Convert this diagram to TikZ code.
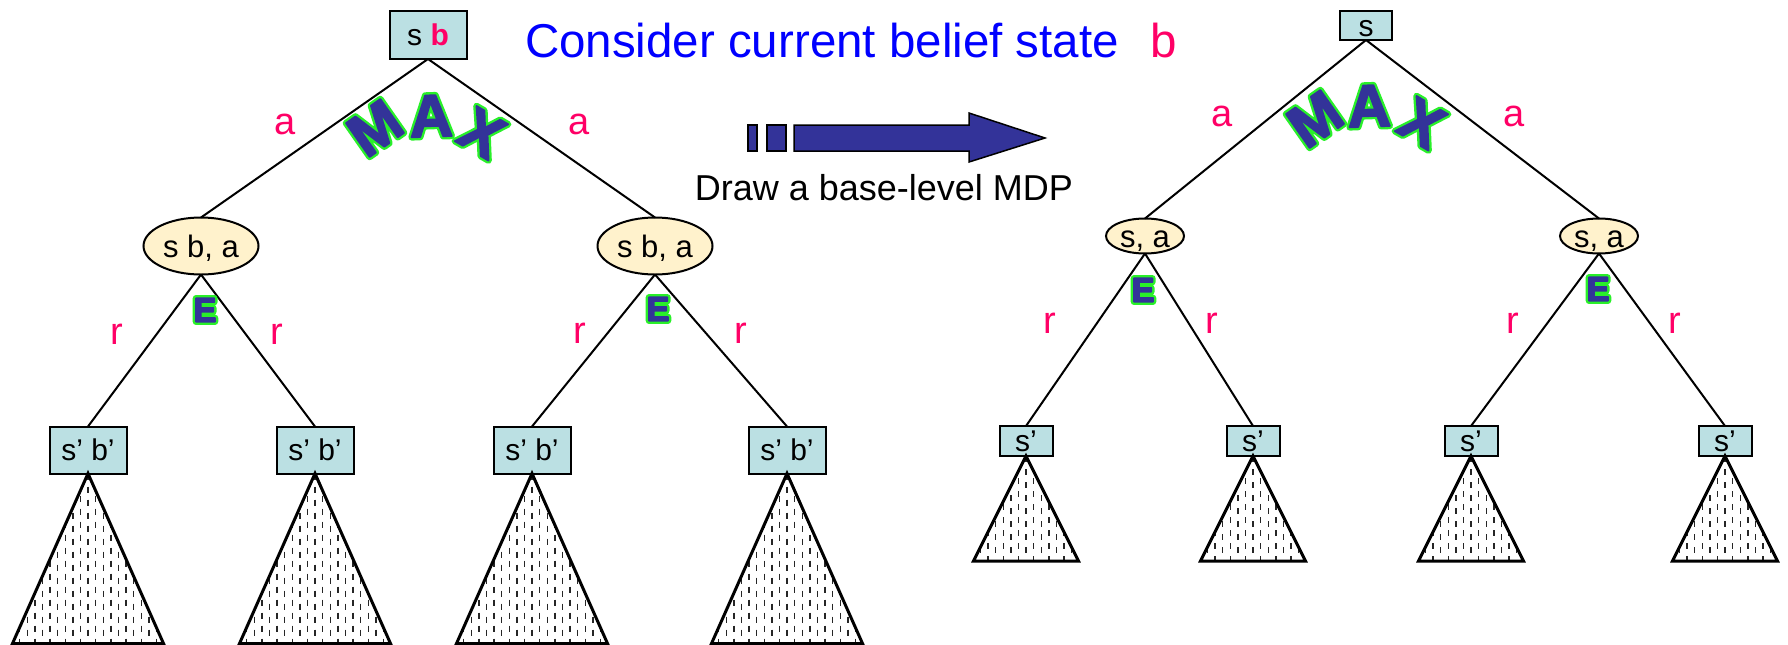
\documentclass[tikz,border=0pt]{standalone}
\usepackage{fontspec}
\setmainfont{Liberation Sans}
\usetikzlibrary{shapes.geometric,calc}
\definecolor{boxblue}{RGB}{187,224,227}
\definecolor{ellyel}{RGB}{255,242,204}
\definecolor{pinkred}{RGB}{255,0,102}
\definecolor{titleblue}{RGB}{0,0,255}
\definecolor{wablue}{RGB}{51,51,153}
\definecolor{wagreen}{RGB}{40,240,40}
\newcommand\fs[1]{\fontsize{#1}{#1}\selectfont}
\newcommand\stroked[3]{\special{pdf:literal direct 2 Tr #2 RG #1 w 1 j}#3\special{pdf:literal direct 0 Tr 0 j}}
\tikzset{
 every node/.style={inner sep=0pt, outer sep=0pt},
 bigbox/.style={draw, line width=2pt, fill=boxblue, minimum width=77pt, minimum height=47pt, font=\fs{30}, text height=21pt, text depth=0pt},
 smallbox/.style={draw, line width=2pt, fill=boxblue, minimum width=53pt, minimum height=30pt, font=\fs{30}, text height=21pt, text depth=0pt},
 bigell/.style={ellipse, draw, line width=2pt, fill=ellyel, minimum width=115pt, minimum height=57pt, font=\fs{31}, text height=22pt, text depth=0pt},
 smallell/.style={ellipse, draw, line width=2pt, fill=ellyel, minimum width=78pt, minimum height=35pt, font=\fs{31}, text height=22pt, text depth=0pt},
 edgeline/.style={line width=2pt},
 tri/.style={line width=3pt, line join=miter},
 hatch/.style={line width=1.4pt, black!85, dash pattern=on 6pt off 7pt},
 lbl/.style={text=pinkred, font=\fs{38}, anchor=base},
 wa/.style={font=\bfseries\fs{60}},
 wae/.style={font=\bfseries\fs{34}},
 arrowst/.style={draw, line width=1.5pt, fill=wablue, line join=miter},
}
% WordArt-like letter: green outlined layer below, thickened blue layer on top
\newcommand\waletter[6]{%
 \node[#1, text=wagreen, rotate=#5] (#2g) at (#3,#4) {\stroked{6.5}{0.16 0.94 0.16}{#6}};
 \node[#1, text=wablue, rotate=#5] (#2) at (#3,#4) {\stroked{1.8}{0.2 0.2 0.6}{#6}};
}
\newcommand\subtree[4]{%
 \begin{scope}
  \clip (#1.south) -- ++(-#2,#3) -- ++(2*#2,0) -- cycle;
  \foreach \i [evaluate=\i as \ph using {mod(abs(\i),2)*4}] in {-#4,...,#4}
    \draw[hatch, dash phase=\ph pt] ($(#1.south)+(\i*7.6,0)$) -- ++(0,#3);
 \end{scope}
 \draw[tri] (#1.south) -- ++(-#2,#3) -- ++(2*#2,0) -- cycle;
}
\begin{document}
\begin{tikzpicture}[x=1pt,y=-1pt]
\useasboundingbox (0,0) rectangle (1788,645);
\fill[white] (0,0) rectangle (1788,645);

% title
\node[anchor=base west, text=titleblue, font=\fs{47.5}] (title) at (525,57) {Consider current belief state};
\node[anchor=base, text=pinkred, font=\fs{47.5}] (titleb) at (1164,57) {b};

% arrow
\draw[arrowst] (748,125) rectangle (757,151);
\draw[arrowst] (767,125) rectangle (786,151);
\draw[arrowst] (794,125) -- (969,125) -- (969,113) -- (1045,138) -- (969,162) -- (969,151) -- (794,151) -- cycle;
\node[anchor=base, font=\fs{36}] (drawtxt) at (884,200) {Draw a base-level MDP};

% ---------------- left tree
\node[bigbox, minimum height=48pt] (L) at (428,35) {s \textcolor{pinkred}{\textbf{b}}};
\node[bigell] (L1) at (201,246) {s b, a};
\node[bigell] (L2) at (655,246) {s b, a};
\node[bigbox] (LB1) at (88,450) {s’ b’};
\node[bigbox] (LB2) at (315,450) {s’ b’};
\node[bigbox] (LB3) at (532,450) {s’ b’};
\node[bigbox] (LB4) at (787,450) {s’ b’};
\draw[edgeline] (L.south) -- (L1.north);
\draw[edgeline] (L.south) -- (L2.north);
\draw[edgeline] (L1.south) -- (LB1.north);
\draw[edgeline] (L1.south) -- (LB2.north);
\draw[edgeline] (L2.south) -- (LB3.north);
\draw[edgeline] (L2.south) -- (LB4.north);
\subtree{LB1}{75.5}{170}{10}
\subtree{LB2}{75.5}{170}{10}
\subtree{LB3}{75.5}{170}{10}
\subtree{LB4}{75.5}{170}{10}
\node[lbl] (La1) at (285,134) {a};
\node[lbl] (La2) at (579,134) {a};
\node[lbl] (Lr1) at (117,344) {r};
\node[lbl] (Lr2) at (277,344) {r};
\node[lbl] (Lr3) at (580,343) {r};
\node[lbl] (Lr4) at (741,343) {r};
\waletter{wa}{LM}{375}{128}{35}{M}
\waletter{wa}{LA}{431}{116}{2}{A}
\waletter{wa}{LX}{482}{133}{-30}{X}
\waletter{wae}{LE1}{205}{310}{0}{E}
\waletter{wae}{LE2}{658}{309}{0}{E}

% ---------------- right tree
\node[smallbox, minimum width=52pt, minimum height=29pt] (R) at (1366,25.5) {s};
\node[smallell] (R1) at (1145,236) {s, a};
\node[smallell] (R2) at (1599,236) {s, a};
\node[smallbox] (RB1) at (1026,441) {s’};
\node[smallbox] (RB2) at (1253,441) {s’};
\node[smallbox] (RB3) at (1471,441) {s’};
\node[smallbox] (RB4) at (1725,441) {s’};
\draw[edgeline] (R.south) -- (R1.north);
\draw[edgeline] (R.south) -- (R2.north);
\draw[edgeline] (R1.south) -- (RB1.north);
\draw[edgeline] (R1.south) -- (RB2.north);
\draw[edgeline] (R2.south) -- (RB3.north);
\draw[edgeline] (R2.south) -- (RB4.north);
\subtree{RB1}{52.5}{105}{7}
\subtree{RB2}{52.5}{105}{7}
\subtree{RB3}{52.5}{105}{7}
\subtree{RB4}{52.5}{105}{7}
\node[lbl] (Ra1) at (1222,126) {a};
\node[lbl] (Ra2) at (1514,126) {a};
\node[lbl] (Rr1) at (1050,333) {r};
\node[lbl] (Rr2) at (1212,333) {r};
\node[lbl] (Rr3) at (1513,333) {r};
\node[lbl] (Rr4) at (1675,333) {r};
\waletter{wa}{RM}{1315}{119}{35}{M}
\waletter{wa}{RA}{1369}{106}{2}{A}
\waletter{wa}{RX}{1422}{123}{-30}{X}
\waletter{wae}{RE1}{1143}{290}{0}{E}
\waletter{wae}{RE2}{1598}{289}{0}{E}
\end{tikzpicture}
\end{document}
